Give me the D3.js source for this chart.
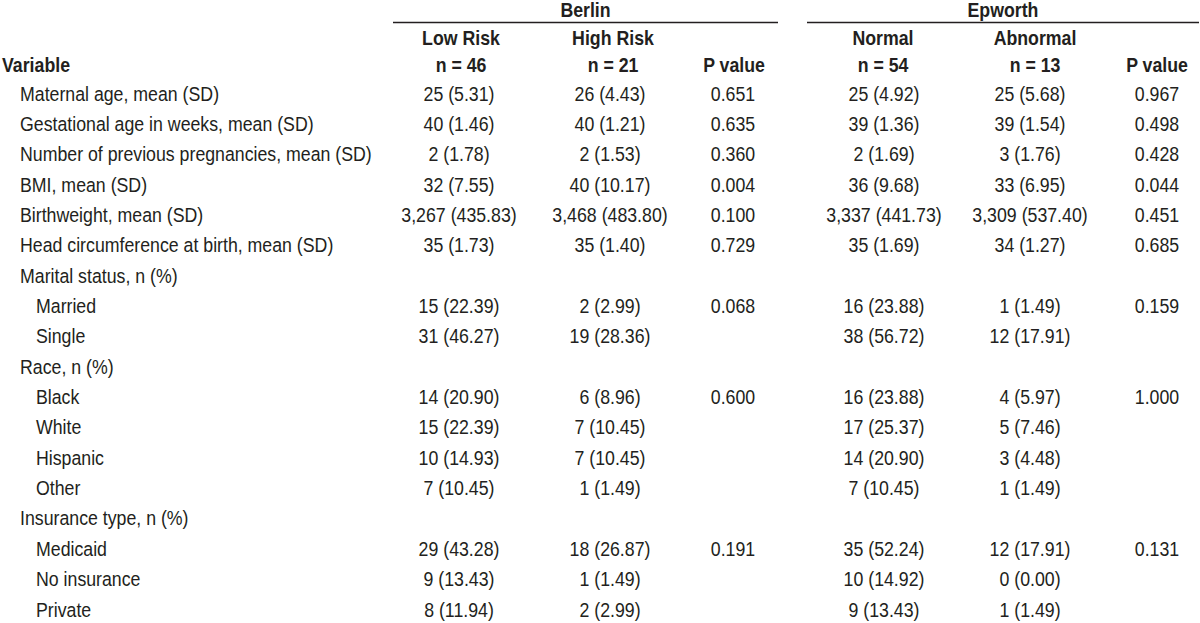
<!DOCTYPE html>
<html><head><meta charset="utf-8">
<script src="https://cdn.jsdelivr.net/npm/d3@7"></script>
<style>
html,body{margin:0;padding:0;background:#fff;}
svg text{font-family:"Liberation Sans Narrow","Liberation Sans",Arial,sans-serif;fill:#231f20;}
</style></head>
<body>
<svg id="chart" width="1200" height="623"></svg>
<script>
const groups = ["Berlin", "Epworth"];
const columnHeads = [["Low Risk","n = 46"],["High Risk","n = 21"],["","P value"],["Normal","n = 54"],["Abnormal","n = 13"],["","P value"]];
const variables = [
  "Maternal age, mean (SD)","Gestational age in weeks, mean (SD)","Number of previous pregnancies, mean (SD)",
  "BMI, mean (SD)","Birthweight, mean (SD)","Head circumference at birth, mean (SD)",
  "Marital status, n (%)","Married","Single","Race, n (%)","Black","White","Hispanic","Other",
  "Insurance type, n (%)","Medicaid","No insurance","Private"];
const indentLevel = [0,0,0,0,0,0,0,1,1,0,1,1,1,1,0,1,1,1];
const berlinLow = ["25 (5.31)","40 (1.46)","2 (1.78)","32 (7.55)","3,267 (435.83)","35 (1.73)","","15 (22.39)","31 (46.27)","","14 (20.90)","15 (22.39)","10 (14.93)","7 (10.45)","","29 (43.28)","9 (13.43)","8 (11.94)"];
const berlinHigh = ["26 (4.43)","40 (1.21)","2 (1.53)","40 (10.17)","3,468 (483.80)","35 (1.40)","","2 (2.99)","19 (28.36)","","6 (8.96)","7 (10.45)","7 (10.45)","1 (1.49)","","18 (26.87)","1 (1.49)","2 (2.99)"];
const berlinP = ["0.651","0.635","0.360","0.004","0.100","0.729","","0.068","","","0.600","","","","","0.191","",""];
const epworthNormal = ["25 (4.92)","39 (1.36)","2 (1.69)","36 (9.68)","3,337 (441.73)","35 (1.69)","","16 (23.88)","38 (56.72)","","16 (23.88)","17 (25.37)","14 (20.90)","7 (10.45)","","35 (52.24)","10 (14.92)","9 (13.43)"];
const epworthAbnormal = ["25 (5.68)","39 (1.54)","3 (1.76)","33 (6.95)","3,309 (537.40)","34 (1.27)","","1 (1.49)","12 (17.91)","","4 (5.97)","5 (7.46)","3 (4.48)","1 (1.49)","","12 (17.91)","0 (0.00)","1 (1.49)"];
const epworthP = ["0.967","0.498","0.428","0.044","0.451","0.685","","0.159","","","1.000","","","","","0.131","",""];

const columns = [berlinLow, berlinHigh, berlinP, epworthNormal, epworthAbnormal, epworthP];

const svg = d3.select("#chart");
const fs = 19.5;
const squeeze = 0.91;

// scales
const y = d3.scalePoint().domain(d3.range(variables.length)).range([100.5, 616.5]);
const x = d3.scaleOrdinal().domain(d3.range(6)).range([459, 610, 733, 884, 1030, 1157]);
const headX = d3.scaleOrdinal().domain(d3.range(6)).range([461, 613, 734, 883, 1035, 1157]);
const groupSpan = d3.scaleOrdinal().domain(groups).range([[393, 778], [807, 1199]]);
const indent = d3.scaleOrdinal().domain([0, 1]).range([20, 36]);

function place(sel, fx, fy) {
  return sel.attr("x", 0).attr("y", 0)
    .attr("transform", (d, i) => `translate(${fx(d, i)},${fy(d, i)}) scale(${squeeze},1)`)
    .attr("font-size", fs);
}

const g = svg.append("g");
// group headers
groups.forEach(name => {
  const [a, b] = groupSpan(name);
  place(g.append("text").datum(name), () => (a + b) / 2, () => 17)
    .attr("text-anchor", "middle").attr("font-weight", "bold").text(name);
  g.append("line").attr("x1", a).attr("x2", b).attr("y1", 22.5).attr("y2", 22.5)
    .attr("stroke", "#231f20").attr("stroke-width", 1.3);
});

// column headers
place(g.append("text").datum("Variable"), () => 2, () => 72).attr("font-weight", "bold").text("Variable");
columnHeads.forEach((h, i) => {
  place(g.append("text").datum(h[0]), () => headX(i), () => 45)
    .attr("text-anchor", "middle").attr("font-weight", "bold").text(h[0]);
  place(g.append("text").datum(h[1]), () => headX(i), () => 72)
    .attr("text-anchor", "middle").attr("font-weight", "bold").text(h[1]);
});

// variable labels
place(svg.append("g").selectAll("text").data(variables).join("text"),
  (d, i) => indent(indentLevel[i]), (d, i) => y(i)).text(d => d);

// values
columns.forEach((col, ci) => {
  place(svg.append("g").selectAll("text").data(col).join("text"),
    () => x(ci), (d, i) => y(i)).attr("text-anchor", "middle").text(d => d);
});
</script>
</body></html>
